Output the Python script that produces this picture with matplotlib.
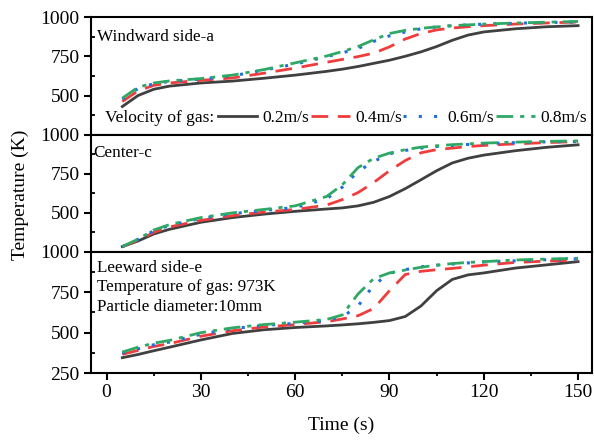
import matplotlib
matplotlib.use('Agg')
import matplotlib.pyplot as plt
from matplotlib.ticker import MultipleLocator

plt.rcParams['font.family'] = ['Liberation Serif', 'DejaVu Serif']
plt.rcParams['mathtext.fontset'] = 'stix'

# time axis (s)
time_s = [5, 10, 15, 20, 30, 40, 50, 60, 70, 75, 80, 85, 90, 95, 100, 105,
          110, 115, 120, 130, 140, 150]

velocities = ['0.2m/s', '0.4m/s', '0.6m/s', '0.8m/s']

# Windward side-a
wind_02 = [430, 500, 540, 560, 580, 592, 610, 630, 654, 668, 685, 705, 725, 750,
           778, 812, 852, 885, 905, 925, 938, 945]
wind_04 = [462, 530, 565, 580, 597, 612, 642, 675, 712, 730, 748, 770, 810, 860,
           895, 918, 930, 938, 945, 955, 962, 968]
wind_06 = [477, 545, 575, 590, 605, 625, 662, 700, 748, 772, 800, 845, 880, 905,
           925, 937, 945, 950, 955, 960, 965, 968]
wind_08 = [483, 553, 580, 593, 608, 630, 665, 708, 752, 780, 812, 855, 895, 915,
           928, 937, 945, 950, 955, 962, 967, 972]

# Center-c
cent_02 = [284, 320, 365, 395, 440, 470, 492, 510, 525, 532, 545, 568, 605, 655,
           712, 770, 820, 850, 870, 898, 920, 936]
cent_04 = [284, 325, 375, 410, 452, 482, 505, 522, 550, 585, 630, 695, 770, 835,
           885, 905, 915, 925, 932, 942, 950, 957]
cent_06 = [284, 330, 385, 420, 465, 495, 515, 535, 590, 665, 765, 830, 878, 900,
           915, 925, 932, 938, 943, 950, 955, 957]
cent_08 = [284, 332, 390, 425, 470, 500, 522, 545, 605, 680, 790, 850, 883, 905,
           921, 930, 937, 942, 947, 953, 958, 961]

# Leeward side-e
lee_02 = [345, 365, 388, 410, 455, 495, 518, 532, 542, 548, 555, 564, 575, 600,
          665, 760, 830, 858, 870, 900, 920, 940]
lee_04 = [366, 390, 415, 432, 478, 512, 535, 550, 568, 585, 605, 650, 760, 860,
          880, 890, 898, 908, 918, 935, 943, 950]
lee_06 = [374, 400, 425, 442, 490, 525, 545, 558, 575, 598, 665, 795, 868, 890,
          908, 918, 925, 932, 938, 945, 952, 957]
lee_08 = [380, 410, 435, 452, 500, 530, 550, 565, 582, 610, 740, 835, 870, 888,
          905, 918, 928, 935, 940, 950, 956, 961]

COLORS = ['#404040', '#f03c3c', '#1f6fe0', '#2ea864']
STYLES = ['-', (0, (6, 3.5)), (0, (1, 4)), (0, (6, 2.5, 1.5, 2.5))]
WIDTHS = [2.0, 2.0, 2.2, 2.0]

fig = plt.figure(figsize=(5.94, 4.42), dpi=100)
left, width = 0.153, 0.844
bounds = [(0.695, 0.2665), (0.430, 0.265), (0.156, 0.274)]
panels = [
    [wind_02, wind_04, wind_06, wind_08],
    [cent_02, cent_04, cent_06, cent_08],
    [lee_02, lee_04, lee_06, lee_08],
]

axes = []
for i, (bottom, height) in enumerate(bounds):
    ax = fig.add_axes([left, bottom, width, height])
    for j, series in enumerate(panels[i]):
        ax.plot(time_s, series, color=COLORS[j], linestyle=STYLES[j],
                linewidth=WIDTHS[j], label=velocities[j])
    ax.set_xlim(-5, 154.5)
    ax.set_ylim(250, 1000)
    if i == 2:
        ax.set_yticks([250, 500, 750, 1000])
    else:
        ax.set_yticks([500, 750, 1000])
    ax.yaxis.set_minor_locator(MultipleLocator(125))
    ax.set_xticks(range(0, 151, 30))
    ax.xaxis.set_minor_locator(MultipleLocator(15))
    for s in ax.spines.values():
        s.set_linewidth(1.5)
    ax.tick_params(which='major', direction='out', length=5, width=1.5,
                   labelsize=14, pad=3)
    ax.tick_params(axis='y', which='minor', direction='in', length=3, width=1.3)
    ax.tick_params(axis='x', which='minor', direction='out', length=2.5, width=1.3)
    if i < 2:
        ax.tick_params(axis='x', which='both', bottom=False, labelbottom=False)
    axes.append(ax)

ax_top, ax_mid, ax_bot = axes

ax_top.text(0.012, 0.83, 'Windward side-a', transform=ax_top.transAxes,
            fontsize=12.3, va='center', ha='left')
ax_mid.text(0.004, 0.846, 'Center-c', transform=ax_mid.transAxes,
            fontsize=12.3, va='center', ha='left')
ax_bot.text(0.012, 0.868, 'Leeward side-e', transform=ax_bot.transAxes,
            fontsize=12.3, va='center', ha='left')
ax_bot.text(0.012, 0.71, 'Temperature of gas: 973K', transform=ax_bot.transAxes,
            fontsize=12.3, va='center', ha='left')
ax_bot.text(0.012, 0.545, 'Particle diameter:10mm', transform=ax_bot.transAxes,
            fontsize=12.3, va='center', ha='left')

# legend row inside the top panel
ax_top.text(0.028, 0.144, 'Velocity of gas:', transform=ax_top.transAxes,
            fontsize=12.5, va='center', ha='left')
ax_top.legend(loc='center left', bbox_to_anchor=(0.2535, 0.144), ncol=4,
              frameon=False, fontsize=12.5, borderpad=0, borderaxespad=0,
              handlelength=2.25, handletextpad=0.3, columnspacing=0.1)

ax_bot.set_xlabel('Time (s)', fontsize=14, labelpad=11)
fig.text(0.034, 0.56, 'Temperature (K)', rotation=90, fontsize=14,
         ha='center', va='center')

fig.savefig('out.png', dpi=100)
